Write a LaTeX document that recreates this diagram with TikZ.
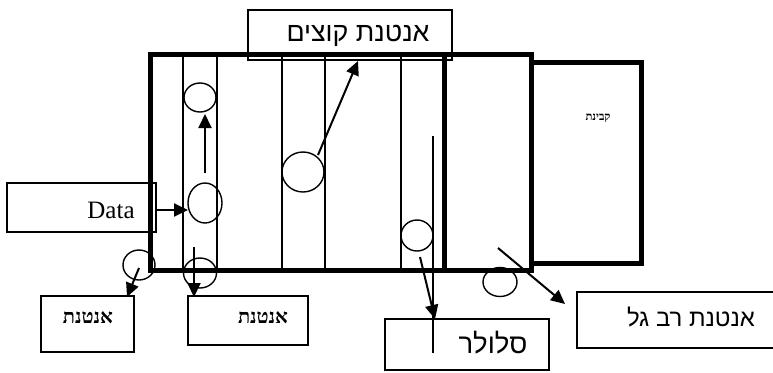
\documentclass[tikz,border=0pt]{standalone}
\usepackage{fontspec}
\usetikzlibrary{shapes.geometric,arrows.meta}
\TeXXeTstate=1
\newfontfamily\hebsans[Script=Hebrew]{Liberation Sans}
\newfontfamily\hebserif[Script=Hebrew]{Liberation Serif}
\setmainfont{Liberation Serif}
\tikzset{
  wall/.style={line width=5pt},
  lane/.style={line width=1.3pt},
  lbox/.style={draw, line width=1.4pt, rectangle, inner sep=0pt},
  circ/.style={draw, ellipse, line width=1.4pt, inner sep=0pt},
  arr/.style={line width=2pt, -{Triangle[length=14pt,width=13pt]}},
  lab/.style={inner sep=0pt},
}
\begin{document}
\begin{tikzpicture}[x=1pt,y=-1pt]
\useasboundingbox (0,0) rectangle (773,372);
% walls
\draw[wall] (150,54) rectangle (444,270);
\draw[wall] (444,54) rectangle (531,270);
\draw[wall] (531,62) -- (641,62) -- (641,263) -- (531,263);
% lanes
\foreach \x in {183,217,282,325,401} \draw[lane] (\x,54) -- (\x,270);
\draw[lane] (433,136) -- (433,353);
% label boxes
\node[lbox, minimum width=204pt, minimum height=50pt] (top) at (350,35) {};
\node[lab] (ttop) at (358,36) {\resizebox{143pt}{!}{\hebsans\fontsize{26}{26}\selectfont\beginR אנטנת קוצים\endR}};
\node[lbox, minimum width=149pt, minimum height=49pt] (data) at (81.5,207.5) {};
\node[font=\fontsize{25}{25}\selectfont] (tdata) at (111,210) {Data};
\node[lbox, minimum width=93pt, minimum height=56pt] (antL) at (87.5,324) {};
\node[lab] (tantL) at (88,318) {\resizebox{50pt}{!}{\hebserif\bfseries\fontsize{17}{17}\selectfont\beginR אנטנת\endR}};
\node[lbox, minimum width=120pt, minimum height=49pt] (antM) at (248,320.5) {};
\node[lab] (tantM) at (263,318) {\resizebox{50pt}{!}{\hebserif\bfseries\fontsize{17}{17}\selectfont\beginR אנטנת\endR}};
\node[lbox, minimum width=164pt, minimum height=51pt] (cell) at (467,344.5) {};
\node[lab] (tcell) at (493,343) {\resizebox{69pt}{!}{\hebsans\fontsize{26}{26}\selectfont\beginR סלולר\endR}};
\node[lbox, minimum width=199pt, minimum height=56pt] (multi) at (676.5,320) {};
\node[lab] (tmulti) at (691,317) {\resizebox{128pt}{!}{\hebsans\fontsize{24}{24}\selectfont\beginR אנטנת רב גל\endR}};
\node[lab] (cab) at (598,118) {\resizebox{25pt}{!}{\hebserif\bfseries\fontsize{10}{10}\selectfont\beginR קבינת\endR}};
% circles
\node[circ, minimum width=32pt, minimum height=29pt] (c1) at (200,97.5) {};
\node[circ, minimum width=34pt, minimum height=40pt] (c2) at (205,203) {};
\node[circ, minimum width=42pt, minimum height=40pt] (c3) at (303,172) {};
\node[circ, minimum width=32pt, minimum height=31pt] (c4) at (417,235.5) {};
\node[circ, minimum width=34pt, minimum height=29pt] (c5) at (500,282) {};
\node[circ, minimum width=32pt, minimum height=30pt] (c6) at (139,265) {};
\node[circ, minimum width=33pt, minimum height=30pt] (c7) at (200,273) {};
% arrow end points
\coordinate (a1s) at (205,173);
\coordinate (a1e) at (205,114);
\coordinate (a3s) at (318,155);
\coordinate (a3e) at (358,61);
\coordinate (a4s) at (420,257);
\coordinate (a4e) at (435,319);
\coordinate (a5s) at (498,248);
\coordinate (a5e) at (565,304);
\coordinate (a6s) at (139,268);
\coordinate (a6e) at (127,297);
\coordinate (a7s) at (194,247);
\coordinate (a7e) at (194,297);
\coordinate (ds) at (data.east |- 0,210);
\coordinate (de) at (188,210);
% arrows
\draw[arr] (a1s) -- (a1e);
\draw[arr] (ds) -- (de);
\draw[arr] (a3s) -- (a3e);
\draw[arr] (a4s) -- (a4e);
\draw[arr] (a5s) -- (a5e);
\draw[arr] (a6s) -- (a6e);
\draw[arr] (a7s) -- (a7e);
\end{tikzpicture}
\end{document}
